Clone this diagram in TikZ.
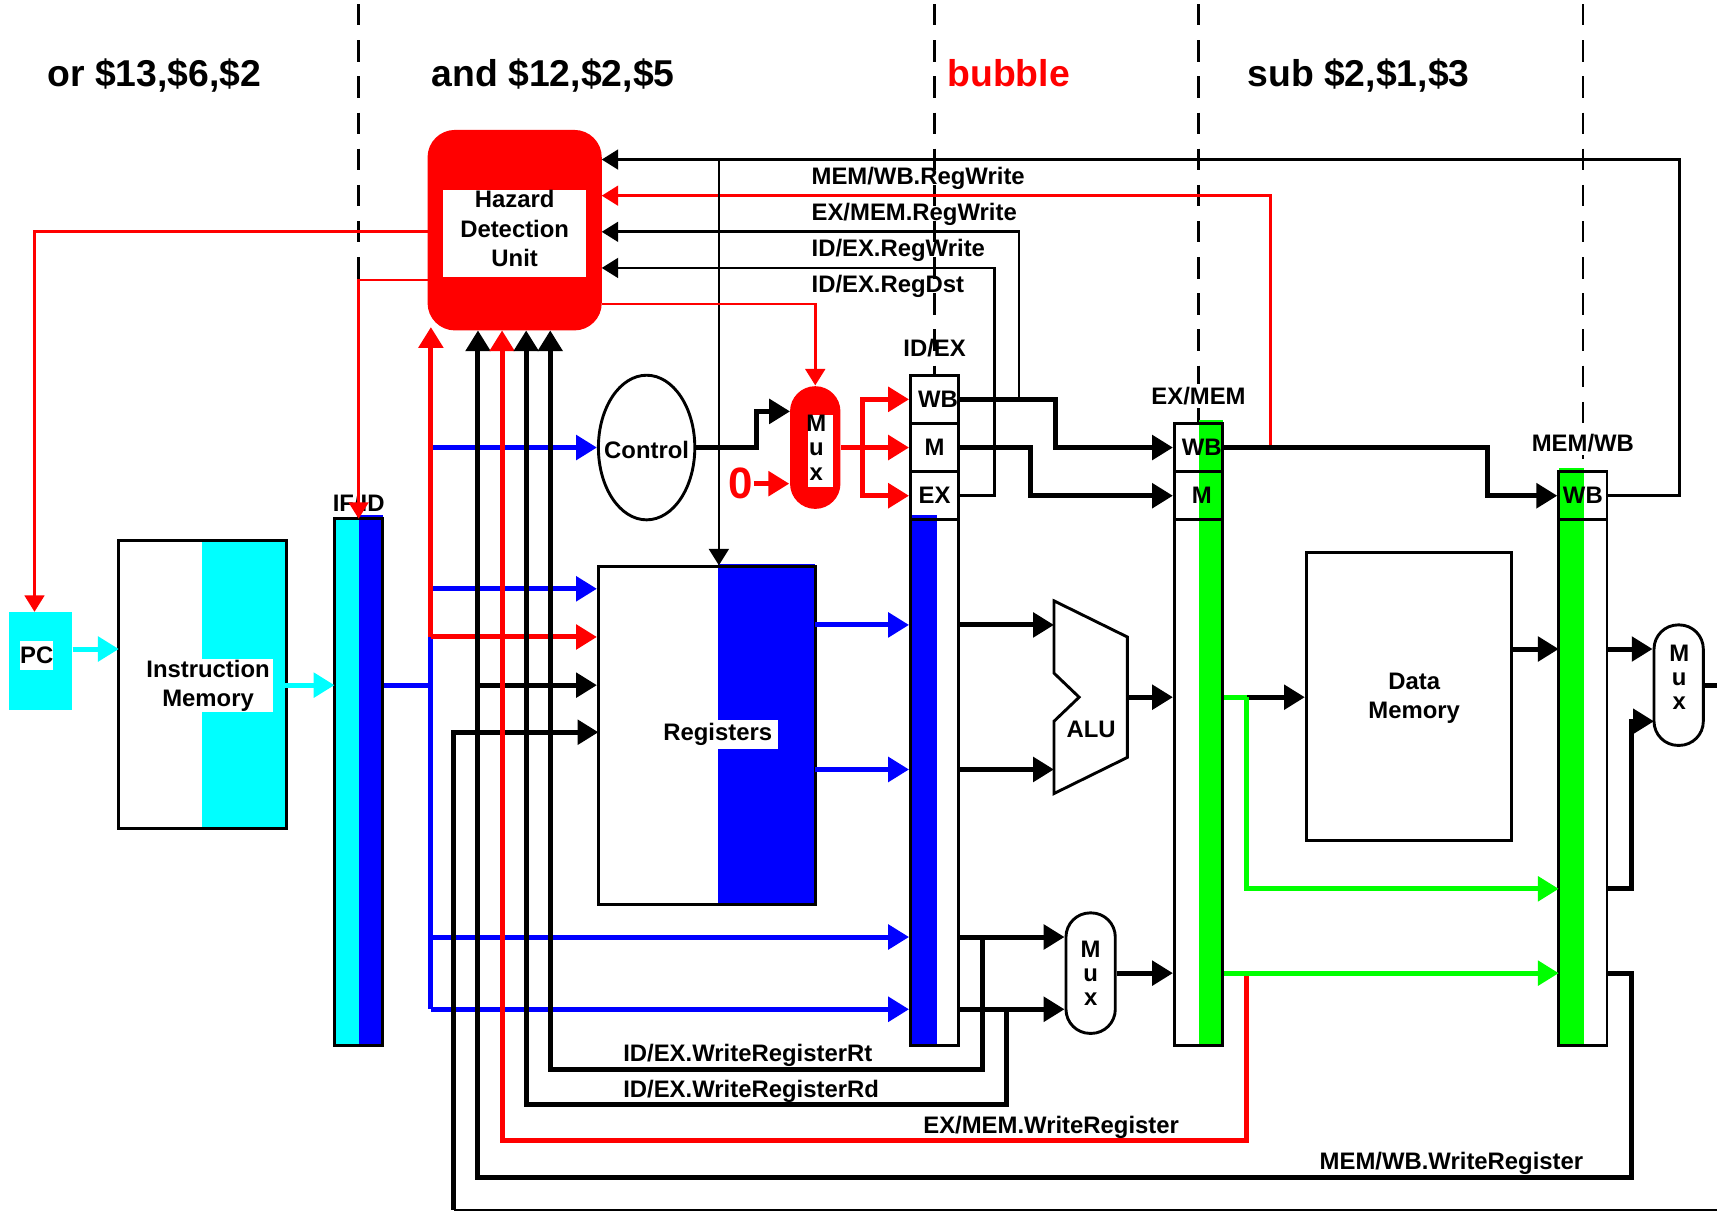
\documentclass[tikz,border=0pt]{standalone}
\usepackage{fontspec}
\setmainfont{Liberation Sans}
\usetikzlibrary{arrows.meta, shapes.geometric}
\definecolor{aqua}{rgb}{0,1,1}
\newcommand{\lblfont}{\fontsize{6.2pt}{7.7pt}\selectfont\bfseries}
\newcommand{\muxfont}{\fontsize{6.2pt}{6.3pt}\selectfont\bfseries}
\newcommand{\titlefont}{\fontsize{9.7pt}{11pt}\selectfont\bfseries}
\begin{document}
\begin{tikzpicture}[x=0.01cm, y=-0.01cm, >={Triangle[length=0.19cm, width=0.22cm]},
    every node/.style={inner sep=0pt, align=center, font=\lblfont},
    box/.style={draw, line width=0.75pt},
    mux/.style={draw, line width=0.75pt, fill=white, rounded corners=0.22cm, minimum width=0.45cm, minimum height=1.1cm, font=\muxfont},
    lbl/.style={anchor=west},
    title/.style={anchor=base west, font=\titlefont},
    bus/.style={line width=1.3pt},
    tail/.style={shorten <=-0.02cm},
    wire/.style={line width=0.7pt, >={Triangle[length=0.15cm, width=0.18cm]}},
    stage/.style={line width=0.7pt, dash pattern=on 5.55pt off 3.84pt}]
    \useasboundingbox (-0.5,-0.7) rectangle (1567.5,1105.3);
    % stage lines
    \coordinate (stA) at (327,3); \coordinate (stB) at (853,3);
    \coordinate (stC) at (1094,3); \coordinate (stD) at (1445,3);
    \coordinate (stAe) at (327,473); \coordinate (stBe) at (853,342);
    \coordinate (stCe) at (1094,386); \coordinate (stDe) at (1445,474);
    \draw[stage] (stA) -- (stAe);
    \draw[stage] (stB) -- (stBe);
    \draw[stage] (stC) -- (stCe);
    \draw[stage] (stD) -- (stDe);
    % fetch
    \node[fill=aqua, minimum width=0.57cm, minimum height=0.9cm] (pc) at (36.5,603) {};
    \node[fill=white, minimum width=0.3cm, minimum height=0.26cm] (pcText) at (33,598) {PC};
    \node[fill=aqua, minimum width=0.77cm, minimum height=2.63cm] (imemFill) at (222.5,624.5) {};
    \node[box, minimum width=1.53cm, minimum height=2.63cm] (imem) at (184.5,624.5) {};
    \node[fill=white, minimum width=1.19cm, minimum height=0.48cm] (imemText) at (189.5,625.5) {Instruction\\Memory};
    % pipeline registers
    \node[fill=aqua, minimum width=0.22cm, minimum height=4.81cm] (ifFillA) at (316,713.5) {};
    \node[fill=blue, minimum width=0.22cm, minimum height=4.84cm] (ifFillB) at (338,712) {};
    \node[box, minimum width=0.44cm, minimum height=4.81cm] (ifBar) at (327,713.5) {};
    \node[fill=blue, minimum width=0.24cm, minimum height=4.84cm] (idFill) at (843,712) {};
    \node[box, minimum width=0.44cm, minimum height=4.8cm] (idBar) at (853,714) {};
    \node[box, minimum width=0.44cm, minimum height=0.44cm] (idWb) at (853,364) {\hspace{0.06cm}WB};
    \node[box, minimum width=0.44cm, minimum height=0.44cm] (idM) at (853,408) {M};
    \node[box, minimum width=0.44cm, minimum height=0.44cm] (idEx) at (853,452) {EX};
    \node[fill=green, minimum width=0.22cm, minimum height=5.71cm] (emFill) at (1105,668.5) {};
    \node[box, minimum width=0.44cm, minimum height=4.8cm] (emBar) at (1094,714) {};
    \node[box, minimum width=0.44cm, minimum height=0.44cm] (emWb) at (1094,408) {\hspace{0.06cm}WB};
    \node[box, minimum width=0.44cm, minimum height=0.44cm] (emM) at (1094,452) {\hspace{0.06cm}M};
    \node[fill=green, minimum width=0.23cm, minimum height=5.27cm] (mwFill) at (1434.5,690.5) {};
    \node[box, minimum width=0.44cm, minimum height=4.8cm] (mwBar) at (1445,714) {};
    \node[box, minimum width=0.44cm, minimum height=0.44cm] (mwWb) at (1445,452) {WB};
    \node (ifText) at (327,459) {IF/ID};
    \node (idText) at (853,317) {ID/EX};
    \node[fill=white, inner xsep=0.02cm, inner ysep=0.03cm] (emText) at (1094,361) {EX/MEM};
    \node[fill=white, inner xsep=0.02cm, inner ysep=0.03cm] (mwText) at (1445,404) {MEM/WB};
    % decode
    \node[fill=blue, minimum width=0.89cm, minimum height=3.11cm] (regsFill) at (699.5,669.5) {};
    \node[box, minimum width=1.98cm, minimum height=3.08cm] (regs) at (645,671) {};
    \node[fill=white, minimum width=1.06cm, minimum height=0.27cm] (regsText) at (657,670) {Registers\hspace{0.04cm}};
    \node[box, ellipse, minimum width=0.88cm, minimum height=1.32cm] (control) at (590,408) {};
    \node (controlText) at (590,410) {Control};
    \node[fill=red, rounded corners=0.23cm, minimum width=0.46cm, minimum height=1.12cm] (muxZ) at (744,408) {};
    \node[fill=white, minimum width=0.23cm, minimum height=0.66cm] (muxZBack) at (748.5,411) {};
    \node[font=\muxfont] (muxZText) at (745,408) {M\\u\\x};
    \node[text=red, font=\fontsize{11.4pt}{12pt}\selectfont\bfseries] (zero) at (676,441) {0};
    \node[fill=red, rounded corners=0.25cm, minimum width=1.59cm, minimum height=1.83cm] (hdu) at (469.5,209.5) {};
    \node[fill=white, minimum width=1.31cm, minimum height=0.79cm] (hduBack) at (469.5,212.5) {};
    \node (hduText) at (469.5,208) {Hazard\\Detection\\Unit};
    % execute, memory, write back
    \coordinate (aluA) at (962,548); \coordinate (aluB) at (1029,581);
    \coordinate (aluC) at (1029,691); \coordinate (aluD) at (962,724);
    \coordinate (aluE) at (962,658); \coordinate (aluF) at (985,636);
    \coordinate (aluG) at (962,614);
    \draw[box] (aluA) -- (aluB) -- (aluC) -- (aluD) -- (aluE) -- (aluF) -- (aluG) -- cycle;
    \node (aluText) at (996,665) {ALU};
    \node[mux] (muxEx) at (995.5,888) {M\\u\\x};
    \node[box, minimum width=1.87cm, minimum height=2.63cm] (dmem) at (1286,635.5) {};
    \node (dmemText) at (1291,637) {Data\\Memory};
    \node[mux] (muxWb) at (1532.5,625) {};
    \node[font=\muxfont] (muxWbText) at (1533,618) {M\\u\\x};
    % connector points
    \coordinate (pcIn) at (108,592); \coordinate (ifIn) at (305,625); \coordinate (imemOut) at (249,625);
    \coordinate (tapIf) at (393,625); \coordinate (tapCtl) at (393,408); \coordinate (tapRa) at (393,537);
    \coordinate (tapR) at (393,581); \coordinate (tapRt) at (393,855); \coordinate (tapRd) at (393,921);
    \coordinate (hduR) at (393,298); \coordinate (tapMwR) at (436,625); \coordinate (hduMw) at (436,301);
    \coordinate (hduEm) at (458,301); \coordinate (hduRd) at (480,301); \coordinate (hduRt) at (502,301);
    \coordinate (botL) at (414,1104); \coordinate (botR) at (1568,1104); \coordinate (regsB) at (546,668);
    \coordinate (inMw) at (549,145); \coordinate (inEm) at (549,178); \coordinate (inEx) at (549,211);
    \coordinate (inDst) at (549,244); \coordinate (railMw) at (1533,300); \coordinate (railDst) at (908,300);
    \coordinate (tapEm) at (1160,408); \coordinate (tapWb) at (930,364); \coordinate (tapMw) at (656,145);
    \coordinate (hduPc) at (390,211); \coordinate (pcTop) at (31,558); \coordinate (hduIf) at (390,255);
    \coordinate (ifTop) at (327,473); \coordinate (hduMux) at (549,277);
    \coordinate (railCtl) at (690,390); \coordinate (muxZa) at (721,375); \coordinate (tapZ) at (787,408);
    \coordinate (railWb) at (963,386); \coordinate (railM) at (941,430); \coordinate (railEm) at (1358,430);
    \coordinate (regA) at (744,570); \coordinate (regB) at (744,702);
    \coordinate (aluInA) at (962,570); \coordinate (aluInB) at (962,702); \coordinate (aluOut) at (1029,636);
    \coordinate (tapRtB) at (897,855); \coordinate (tapRdB) at (919,921);
    \coordinate (railRt) at (502,976); \coordinate (railRd) at (480,1008); \coordinate (railEmW) at (458,1041);
    \coordinate (tapD) at (1138,636); \coordinate (tapE) at (1138,888); \coordinate (mwA) at (1423,592);
    \coordinate (mwB) at (1423,811); \coordinate (mwC) at (1423,888); \coordinate (railMwW) at (1489,1075);
    \coordinate (railMuxWb) at (1489,735); \coordinate (muxWbB) at (1510,658); \coordinate (outEnd) at (1568,625);
    % fetch connectors
    \draw[->, bus, aqua] (pc.east |- pcIn) -- (pcIn);
    \draw[->, bus, aqua] (imemOut) -- (ifIn);
    % control lines to hazard unit
    \draw[->, wire] (mwWb.east) -| (railMw) |- (inMw);
    \draw[->, wire, red] (tapEm) |- (inEm);
    \draw[->, wire] (tapWb) |- (inEx);
    \draw[->, wire] (idEx.east) -| (railDst) |- (inDst);
    \draw[->, wire] (tapMw) -- (tapMw |- regs.north);
    \draw[->, wire, red] (hduPc) -| (pcTop);
    \draw[->, wire, red] (hduIf) -| (ifTop);
    \draw[->, wire, red] (hduMux) -| (muxZ.north);
    % blue lines
    \draw[bus, blue] (ifBar.east |- tapIf) -- (tapIf);
    \draw[bus, blue] (tapCtl) -- (tapRd);
    \draw[->, bus, blue] (tapCtl) -- (control.west);
    \draw[->, bus, blue] (tapRa) -- (regs.west |- tapRa);
    \draw[->, bus, blue] (tapRt) -- (idBar.west |- tapRt);
    \draw[->, bus, blue] (tapRd) -- (idBar.west |- tapRd);
    \draw[->, bus, blue] (regA) -- (idBar.west |- regA);
    \draw[->, bus, blue] (regB) -- (idBar.west |- regB);
    % into registers and hazard unit
    \draw[->, bus, red] (tapR) -- (hduR);
    \draw[->, bus, red] (tapR) -- (regs.west |- tapR);
    \draw[->, bus] (tapMwR) -- (regs.west |- tapMwR);
    \draw[->, bus] (botL) |- (regsB);
    \draw[line width=0.5pt] (botL) -- (botR);
    \draw[->, bus] (mwBar.east |- mwC) -| (railMwW) -| (hduMw);
    \draw[->, bus, red] (tapE) |- (railEmW) -- (hduEm);
    \draw[->, bus] (tapRdB) |- (railRd) -- (hduRd);
    \draw[->, bus] (tapRtB) |- (railRt) -- (hduRt);
    % control path
    \draw[->, bus] (control.east) -| (railCtl) |- (muxZa);
    \draw[->, bus, red] (zero.east) -- (muxZ.west |- zero);
    \draw[->, bus, red] (muxZ.east) -- (idM.west);
    \draw[->, bus, red] (tapZ) |- (idWb.west);
    \draw[->, bus, red] (tapZ) |- (idEx.west);
    \draw[->, bus] (idWb.east) -| (railWb) |- (emWb.west);
    \draw[->, bus] (idM.east) -| (railM) |- (emM.west);
    \draw[->, bus] (emWb.east) -| (railEm) |- (mwWb.west);
    % datapath
    \draw[->, bus, tail] (idBar.east |- aluInA) -- (aluInA);
    \draw[->, bus, tail] (idBar.east |- aluInB) -- (aluInB);
    \draw[->, bus] (aluOut) -- (emBar.west |- aluOut);
    \draw[->, bus, tail] (idBar.east |- tapRt) -- (muxEx.west |- tapRt);
    \draw[->, bus, tail] (idBar.east |- tapRd) -- (muxEx.west |- tapRd);
    \draw[->, bus] (muxEx.east) -- (emBar.west |- muxEx);
    \draw[->, bus] (tapD) -- (dmem.west |- tapD);
    \draw[bus, green] (emBar.east |- tapD) -- (tapD);
    \draw[->, bus, green] (tapD) |- (mwB);
    \draw[->, bus, green] (emBar.east |- mwC) -- (mwC);
    \draw[->, bus, tail] (dmem.east |- mwA) -- (mwA);
    \draw[->, bus, tail] (mwBar.east |- mwA) -- (muxWb.west |- mwA);
    \draw[->, bus] (mwBar.east |- mwB) -| (railMuxWb) |- (muxWbB);
    \draw[bus] (muxWb.east) -- (outEnd);
    % text
    \node[title] (instA) at (42,78) {or \$13,\$6,\$2};
    \node[title] (instB) at (393,78) {and \$12,\$2,\$5};
    \node[title, text=red] (instC) at (864,78) {bubble};
    \node[title] (instD) at (1138,78) {sub \$2,\$1,\$3};
    \node[lbl] (lblA) at (740,162) {MEM/WB.RegWrite};
    \node[lbl] (lblB) at (740,195) {EX/MEM.RegWrite};
    \node[lbl] (lblC) at (740,228) {ID/EX.RegWrite};
    \node[lbl] (lblD) at (740,261) {ID/EX.RegDst};
    \node[lbl] (lblE) at (568,963) {ID/EX.WriteRegisterRt};
    \node[lbl] (lblF) at (568,996) {ID/EX.WriteRegisterRd};
    \node[lbl] (lblG) at (842,1029) {EX/MEM.WriteRegister};
    \node[lbl] (lblH) at (1204,1062) {MEM/WB.WriteRegister};
\end{tikzpicture}
\end{document}
